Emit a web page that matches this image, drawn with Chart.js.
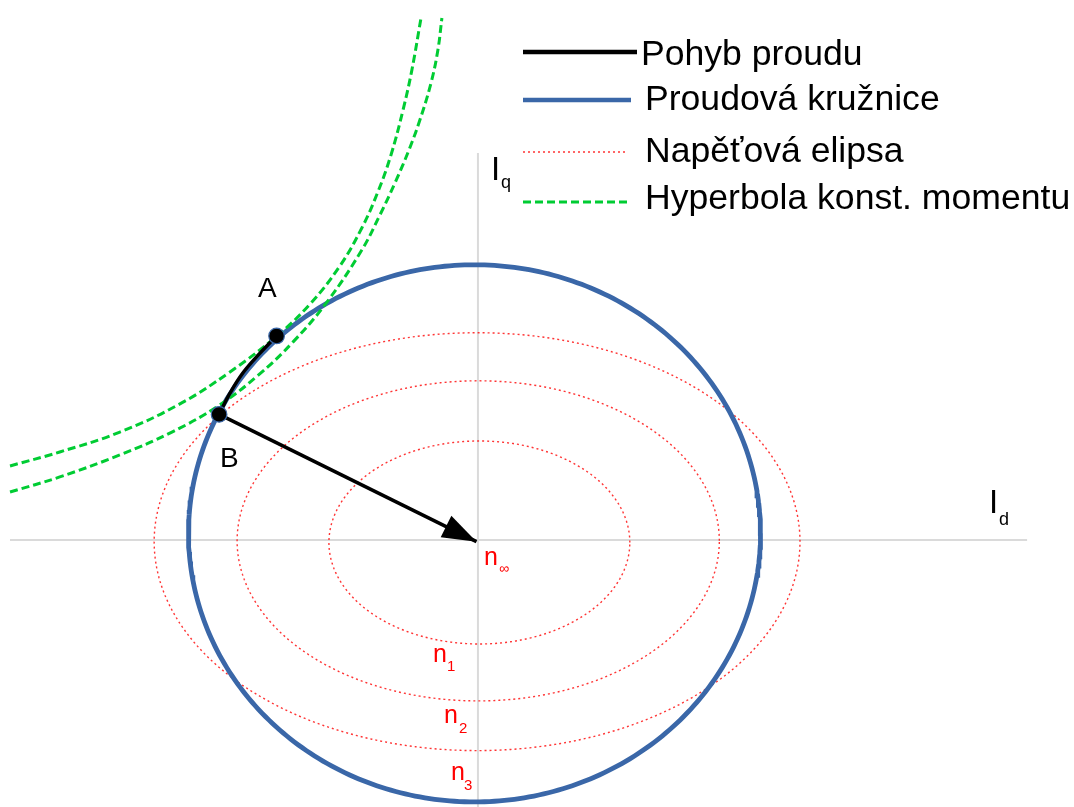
<!DOCTYPE html>
<html>
<head>
<meta charset="utf-8">
<script src="https://cdn.jsdelivr.net/npm/chart.js@4"></script>
<style>
  html, body { margin: 0; padding: 0; background: #fff; }
  #wrap { position: relative; width: 1074px; height: 807px; font-family: "Liberation Sans", Arial, sans-serif; overflow: hidden; }
  #wrap canvas { position: absolute; left: 0; top: 0; }
  .lbl { position: absolute; white-space: nowrap; line-height: 1; }
  .sample { position: absolute; }
</style>
</head>
<body>
<div id="wrap"><canvas id="chart" width="1074" height="807"></canvas></div>
<script>
// ================= DATA (units: current circle radius = 10) =================
const circleCenter = [-0.12, 0.25];
const circleRadius = 10;

// voltage ellipses n1, n2, n3 (semi axes, centre)
const ellipseRx = [5.26, 8.43, 11.29];
const ellipseRy = [3.78, 5.96, 7.78];
const ellipseCx = [0.05, 0.01, -0.03];
const ellipseCy = [-0.09, -0.03, -0.06];

// constant torque hyperbolas
const hypUpperX = [-16.36, -14.62, -12.52, -10.42, -8.67, -7.03, -5.87, -4.83, -4.06, -3.50, -3.04, -2.62, -2.31, -1.99];
const hypUpperY = [2.76, 3.28, 4.02, 5.07, 6.26, 7.60, 8.79, 10.20, 11.62, 12.96, 14.34, 16.01, 17.50, 19.44];
const hypLowerX = [-16.36, -14.62, -12.52, -10.70, -9.06, -7.69, -6.47, -5.28, -4.06, -3.43, -2.90, -2.41, -2.03, -1.64, -1.40, -1.26];
const hypLowerY = [1.79, 2.35, 3.17, 4.02, 5.01, 6.13, 7.37, 8.86, 10.80, 12.10, 13.30, 14.53, 15.64, 17.02, 18.25, 19.44];

// current trajectory A -> B
const pathX = [-7.04, -7.62, -8.22, -8.67, -9.05];
const pathY = [7.60, 6.96, 6.22, 5.47, 4.68];

// operating points A, B and arrow tip
const pointNames = ["A", "B"];
const pointX = [-7.04, -9.05];
const pointY = [7.60, 4.68];
const arrowTip = [-0.05, -0.06];

// axes
const axisDX = [-16.36, 19.2];
const axisQY = [14.41, -9.94];

const legendLabels = ["Pohyb proudu", "Proudová kružnice", "Napěťová elipsa", "Hyperbola konst. momentu"];

// ================= COLORS =================
const BLUE = "#3a67a8";
const GREEN = "#00cc33";
const RED = "rgba(255, 30, 30, 0.9)";
const GRAY = "#dadada";

// ================= HELPERS =================
function zip(xs, ys) {
    return xs.map((x, i) => ({ x: x, y: ys[i] }));
}

function ellipsePoints(cx, cy, rx, ry) {
    const pts = [];
    for (let a = 0; a <= 360; a += 1) {
        const t = a * Math.PI / 180;
        pts.push({ x: cx + rx * Math.cos(t), y: cy + ry * Math.sin(t) });
    }
    return pts;
}

function lineSet(data, color, width, dash, order, tension) {
    return {
        data: data,
        showLine: true,
        borderColor: color,
        backgroundColor: color,
        borderWidth: width,
        borderDash: dash || [],
        pointRadius: 0,
        tension: tension || 0,
        order: order
    };
}

// ================= DATASETS =================
const datasets = [];

datasets.push(lineSet([{ x: axisDX[0], y: 0 }, { x: axisDX[1], y: 0 }], GRAY, 2, null, 9));
datasets.push(lineSet([{ x: 0, y: axisQY[0] }, { x: 0, y: axisQY[1] }], GRAY, 2, null, 9));

ellipseRx.forEach((rx, i) => {
    datasets.push(lineSet(ellipsePoints(ellipseCx[i], ellipseCy[i], rx, ellipseRy[i]), RED, 1.4, [2, 3], 8));
});

datasets.push(lineSet(ellipsePoints(circleCenter[0], circleCenter[1], circleRadius, circleRadius), BLUE, 4.8, null, 6));

datasets.push(lineSet(zip(hypUpperX, hypUpperY), GREEN, 3, [8, 4], 5, 0.4));
datasets.push(lineSet(zip(hypLowerX, hypLowerY), GREEN, 3, [8, 4], 5, 0.4));

datasets.push(lineSet(zip(pathX, pathY), "#000", 3.5, null, 3, 0.4));

const arrowIndex = datasets.length;
datasets.push(lineSet([{ x: pointX[1], y: pointY[1] }, { x: arrowTip[0], y: arrowTip[1] }], "#000", 3.5, null, 2));

datasets.push({
    data: zip(pointX, pointY),
    showLine: false,
    pointRadius: 7.8,
    pointBackgroundColor: "#000",
    pointBorderColor: BLUE,
    pointBorderWidth: 1.2,
    order: 0
});

// arrow head at the end of the arrow dataset
const arrowHead = {
    id: "arrowHead",
    afterDatasetsDraw(chart) {
        const pts = chart.getDatasetMeta(arrowIndex).data;
        const p0 = pts[0], p1 = pts[pts.length - 1];
        const ang = Math.atan2(p1.y - p0.y, p1.x - p0.x);
        const ctx = chart.ctx;
        ctx.save();
        ctx.translate(p1.x, p1.y);
        ctx.rotate(ang);
        ctx.beginPath();
        ctx.moveTo(0, 0);
        ctx.lineTo(-34, -12);
        ctx.lineTo(-34, 12);
        ctx.closePath();
        ctx.fillStyle = "#000";
        ctx.fill();
        ctx.restore();
    }
};

new Chart(document.getElementById("chart"), {
    type: "scatter",
    data: { datasets: datasets },
    options: {
        responsive: false,
        animation: false,
        events: [],
        layout: { padding: 0, autoPadding: false },
        scales: {
            x: { type: "linear", min: -16.71, max: 20.84, display: false },
            y: { type: "linear", min: -9.94, max: 20.11, display: false }
        },
        plugins: {
            legend: { display: false },
            tooltip: { enabled: false }
        }
    },
    plugins: [arrowHead]
});

// ================= TEXT OVERLAY =================
const wrap = document.getElementById("wrap");

function addText(text, x, baseline, size, color) {
    const el = document.createElement("div");
    el.className = "lbl";
    el.textContent = text;
    el.style.left = x + "px";
    el.style.top = (baseline - 0.846 * size) + "px";
    el.style.fontSize = size + "px";
    el.style.color = color || "#000";
    wrap.appendChild(el);
}

function addSample(y, x1, x2, color, width, dash) {
    const svg = document.createElementNS("http://www.w3.org/2000/svg", "svg");
    svg.setAttribute("class", "sample");
    svg.setAttribute("width", x2 - x1);
    svg.setAttribute("height", 12);
    svg.style.left = x1 + "px";
    svg.style.top = (y - 6) + "px";
    const ln = document.createElementNS("http://www.w3.org/2000/svg", "line");
    ln.setAttribute("x1", 0);
    ln.setAttribute("x2", x2 - x1);
    ln.setAttribute("y1", 6);
    ln.setAttribute("y2", 6);
    ln.setAttribute("stroke", color);
    ln.setAttribute("stroke-width", width);
    if (dash) ln.setAttribute("stroke-dasharray", dash);
    svg.appendChild(ln);
    wrap.appendChild(svg);
}

// legend
addSample(52, 523, 637, "#000", 4.5);
addSample(100, 523, 631, BLUE, 4.5);
addSample(152, 523, 628, RED, 1.4, "2 3");
addSample(202, 523, 630, GREEN, 3, "8 4");
addText(legendLabels[0], 641, 66, 35.6);
addText(legendLabels[1], 645, 111, 35.6);
addText(legendLabels[2], 645, 163, 35.6);
addText(legendLabels[3], 645, 210, 35.6);

// axis labels
addText("I", 491, 180, 33);
addText("q", 501, 188, 18);
addText("I", 989, 513, 33);
addText("d", 999, 525, 18);

// points
addText(pointNames[0], 258, 298, 28);
addText(pointNames[1], 220, 468, 28);

// speed labels
addText("n", 484, 565, 25, "#f00");
addText("\u221e", 499, 573, 14, "#f00");
addText("n", 433, 662, 25, "#f00");
addText("1", 447, 671, 15, "#f00");
addText("n", 444, 723, 25, "#f00");
addText("2", 459, 733, 15, "#f00");
addText("n", 451, 780, 25, "#f00");
addText("3", 464, 790, 15, "#f00");
</script>
</body>
</html>
